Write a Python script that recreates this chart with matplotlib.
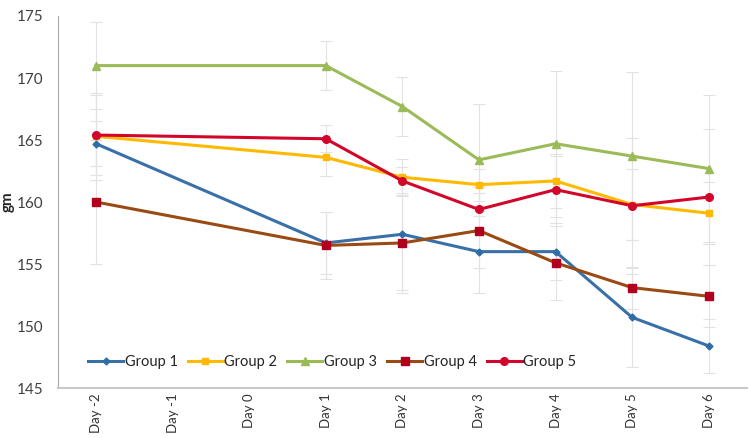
import matplotlib
matplotlib.use("Agg")
import matplotlib.pyplot as plt

days = ["Day -2", "Day -1", "Day 0", "Day 1", "Day 2", "Day 3", "Day 4", "Day 5", "Day 6"]
measured_days = ["Day -2", "Day 1", "Day 2", "Day 3", "Day 4", "Day 5", "Day 6"]

group1 = [164.7, 156.7, 157.4, 156.0, 156.0, 150.7, 148.4]
group2 = [165.3, 163.6, 162.0, 161.4, 161.7, 159.8, 159.1]
group3 = [171.0, 171.0, 167.7, 163.4, 164.7, 163.7, 162.7]
group4 = [160.0, 156.5, 156.7, 157.7, 155.1, 153.1, 152.4]
group5 = [165.4, 165.1, 161.7, 159.4, 161.0, 159.7, 160.4]

err1 = [1.8, 2.5, 4.5, 3.3, 2.3, 4.0, 2.2]
err2 = [3.5, 1.5, 1.5, 1.3, 2.2, 2.9, 2.5]
err3 = [3.5, 2.0, 2.4, 4.5, 5.9, 6.8, 5.9]
err4 = [5.0, 2.7, 4.0, 3.0, 3.0, 1.7, 2.5]
err5 = [3.2, 1.1, 1.1, 1.8, 2.7, 5.5, 5.5]

names = ["Group 1", "Group 2", "Group 3", "Group 4", "Group 5"]

plt.rcParams['font.family'] = ['Lato', 'DejaVu Sans']

fig = plt.figure(figsize=(7.5, 4.38), dpi=100)
ax = fig.add_axes([0.077, 0.114, 0.919, 0.8495])

xpos = [days.index(d) for d in measured_days]

styles = [
    dict(color="#3A70A8", marker="D", markersize=3.5, mfc="#2F6EA5", mec="#2F6EA5"),
    dict(color="#FFB900", marker="s", markersize=5, mfc="#FFB900", mec="#FFB900"),
    dict(color="#9BBB59", marker="^", markersize=5.5, mfc="#9BBB59", mec="#9BBB59"),
    dict(color="#9A4A12", marker="s", markersize=5.5, mfc="#B0001E", mec="#B0001E"),
    dict(color="#D2062B", marker="o", markersize=5.5, mfc="#D2062B", mec="#D2062B"),
]

series = [group1, group2, group3, group4, group5]
errs = [err1, err2, err3, err4, err5]

for vals, e in zip(series, errs):
    ax.errorbar(xpos, vals, yerr=e, fmt="none", ecolor="#E2E2E2", elinewidth=0.8,
                capsize=4, capthick=0.8, zorder=1)

handles = []
for vals, st, nm in zip(series, styles, names):
    h, = ax.plot(xpos, vals, linewidth=2.2, label=nm, zorder=3, **st)
    handles.append(h)

ax.set_xlim(-0.5, len(days) - 0.5)
ax.set_ylim(145, 175)
ax.set_yticks([145, 150, 155, 160, 165, 170, 175])
ax.set_xticks(range(len(days)))
ax.set_xticklabels(days, rotation=90, fontsize=9.5, color="#333333")
ax.tick_params(axis="y", labelsize=11, colors="#404040", length=0, pad=10)
ax.tick_params(axis="x", length=0, pad=4)
ax.set_ylabel("gm", fontsize=11, fontweight="bold", color="#262626")
ax.yaxis.set_label_coords(-0.063, 0.5)

for s in ["top", "right"]:
    ax.spines[s].set_visible(False)
ax.spines["left"].set_color("#A6A6A6")
ax.spines["bottom"].set_color("#C8C8C8")
ax.spines["bottom"].set_linewidth(1.5)

ax.legend(handles=handles, loc="lower left", bbox_to_anchor=(0.025, 0.015), ncol=5,
          frameon=False, fontsize=10.5, handlelength=2.4, handletextpad=0.1,
          columnspacing=0.7, labelcolor="#262626")

fig.savefig("out.png", dpi=100)
